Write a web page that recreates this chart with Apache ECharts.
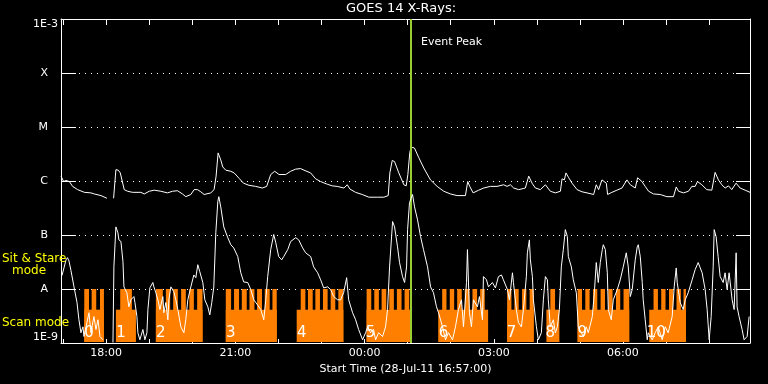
<!DOCTYPE html>
<html>
<head>
<meta charset="utf-8">
<script src="https://cdn.jsdelivr.net/npm/echarts@6/dist/echarts.min.js"></script>
<style>html,body{margin:0;padding:0;background:#000;}#c{width:768px;height:384px;}</style>
</head>
<body>
<div id="c"></div>
<script>
// ---- DATA (time = minutes after start 28-Jul-11 16:57:00, flux = log10 W/m^2) ----
const startLabel = 'Start Time (28-Jul-11 16:57:00)';
const startMinuteOfDay = 16 * 60 + 57;
const yTickLabels = ['1E-9', 'A', 'B', 'C', 'M', 'X', '1E-3'];
const xLabelMinutes = [63, 243, 423, 603, 783];
const hourTickMinutes = [3, 63, 123, 183, 243, 303, 363, 423, 483, 543, 603, 663, 723, 783, 843, 903];
const eventPeak = 488;

// long channel (upper curve)
const longChannel = [
[0,-5.91],[1.4,-5.88],[3.7,-6.01],[7,-5.99],[9.3,-5.96],[11.6,-6.01],[16.2,-6.10],[23.2,-6.16],[32.5,-6.21],[41.7,-6.22],[46.4,-6.24],[55.7,-6.27],[64,-6.32],[68,'-'],
[73.3,-6.32],[76.5,-5.79],[79.8,-5.80],[82.6,-5.85],[88.1,-6.16],[92.8,-6.19],[99.7,-6.21],[111.3,-6.21],[116,-6.24],[122.9,-6.19],[129.9,-6.17],[139.1,-6.19],[148.4,-6.22],[155.4,-6.19],[162.3,-6.18],[169.3,-6.24],[173.9,-6.29],[180.9,-6.25],[185.5,-6.16],[190.2,-6.16],[194.8,-6.20],[199.4,-6.25],[208.7,-6.22],[213.3,-6.16],
[216.1,-5.91],[218.9,-5.48],[220.8,-5.45],[222.6,-5.61],[225.4,-5.74],[229.6,-5.80],[236.5,-5.82],[241.2,-5.85],[248.1,-5.95],[254.2,-6.04],[262,-6.08],[271.3,-6.10],[280.6,-6.13],[286.6,-6.10],[292.2,-5.88],[297.8,-5.82],[303.8,-5.88],[313.1,-5.88],[320,-5.82],[327,-5.78],[333.9,-5.77],[338.6,-5.80],[347.8,-5.85],[354.8,-5.96],[361.7,-6.01],[371,-6.06],[378,-6.09],[384.9,-6.10],[394.2,-6.13],[398.8,-6.07],[402.6,-6.15],[410.4,-6.21],[419.7,-6.25],[429,-6.30],[440.6,-6.30],[449.9,-6.30],[455.9,-6.27],
[458.2,-5.85],[461.5,-5.62],[464.7,-5.64],[470.7,-5.85],[477.7,-6.07],[481,-6.09],[483.3,-5.88],[486,-5.47],[487.9,-5.37],[492.5,-5.39],[498.6,-5.57],[505.5,-5.76],[514.8,-5.98],[524.1,-6.10],[533.3,-6.19],[542.6,-6.24],[551.9,-6.27],[563.5,-6.27],[566.7,-6.01],[569.5,-6.10],[574.2,-6.22],[582,-6.17],[589,-6.13],[598.3,-6.10],[607.5,-6.10],[616.8,-6.07],[621.5,-6.10],[626.1,-6.07],[630.7,-6.13],[637.7,-6.16],[644,-6.14],[647,-6.13],
[651.7,-5.91],[656.3,-6.04],[661,-6.13],[667.9,-6.16],[674.9,-6.07],[681.8,-6.19],[688.8,-6.22],[695.8,-6.19],[698.1,-5.96],[701.3,-5.98],[703.6,-5.85],[707.4,-5.94],[712,-6.04],[719,-6.16],[725.9,-6.20],[732.9,-6.22],[742.1,-6.25],[745.8,-6.07],[749.1,-6.16],[753.7,-5.98],[756,-5.95],[759.8,-6.04],[761.6,-6.25],[767.6,-6.21],[774.6,-6.17],[781.6,-6.13],[788.5,-5.98],[793.2,-6.07],[800.1,-6.13],[803.4,-5.94],[806.1,-5.93],[809.4,-6.01],[814,-6.10],[818.7,-6.19],[825.6,-6.24],[834.9,-6.25],[844.2,-6.29],[853.4,-6.29],[857.2,-6.11],[860.4,-6.19],[867.4,-6.22],[874.3,-6.19],[879,-6.10],[883.6,-6.10],[886.8,-6.01],[892.9,-6.07],[899.8,-6.16],[906.8,-6.17],[911.4,-5.84],[916,-5.98],[920.7,-6.07],[925.4,-6.13],[930,-6.09],[934.6,-6.16],[940.6,-6.04],[946.2,-6.13],[953.2,-6.17],[960,-6.21]
];

// short channel (lower curve)
const shortChannel = [
[1.4,-7.75],[4,-7.72],[7,-7.46],[9,-7.42],[11.1,-7.48],[13.9,-7.66],[18.1,-7.96],[22.3,-8.25],[25,-8.57],[27.8,-8.81],[30.6,-8.70],[32,-8.88],[36.2,-8.62],[39,-8.44],[41.7,-8.81],[45.9,-8.51],[48.7,-8.75],[51.5,-8.57],[54.3,-8.88],[58.4,-8.94],[65,'-'],
[72.4,-8.99],[73.7,-7.59],[76.5,-6.85],[79.3,-6.96],[80.7,-7.09],[83.5,-7.12],[86.3,-7.49],[87.7,-7.96],[91.8,-8.07],[94.6,-8.33],[97.4,-8.20],[101.6,-8.14],[103,-8.25],[105.8,-8.51],[107.1,-8.81],[109.9,-8.94],[114.1,-8.75],[116.9,-8.94],[119.7,-8.81],[121.1,-8.38],[123.8,-7.98],[128,-7.88],[129.4,-7.96],[132.2,-8.07],[135,-8.20],[137.8,-8.38],[141.9,-8.14],[143.3,-8.44],[146.1,-8.25],[148.9,-8.57],[150.3,-8.20],[153.1,-7.96],[157.2,-8.05],[160,-8.20],[162.8,-8.38],[167,-8.70],[171.2,-8.81],[173.9,-8.57],[176.7,-8.20],[180.9,-7.96],[185.1,-7.74],[187.9,-7.79],[190.6,-7.55],[193.4,-7.68],[197.6,-7.88],[200.4,-8.20],[204.6,-8.33],[207.3,-8.48],[210.1,-8.25],[212.9,-7.96],
[215.7,-6.96],[218.5,-6.38],[219.9,-6.29],[222.6,-6.48],[226.8,-6.85],[232.4,-7.05],[236.6,-7.18],[240.7,-7.24],[246.3,-7.40],[250.5,-7.70],[254.6,-7.87],[260.2,-7.88],[264.4,-8.01],[268.6,-8.20],[274.1,-8.30],[278.3,-8.38],[282.5,-8.57],[285.3,-8.20],[288,-7.77],[292.2,-7.27],[296.4,-6.99],[299.2,-7.14],[303.3,-7.40],[307.5,-7.46],[310.3,-7.40],[315.9,-7.27],[320,-7.12],[327,-7.05],[331.2,-7.09],[336.7,-7.24],[340.9,-7.33],[347.9,-7.40],[352,-7.59],[357.6,-7.70],[361.8,-7.83],[366,-7.98],[371.5,-7.96],[375.7,-8.01],[379.9,-8.14],[385.4,-8.20],[389.6,-8.20],[393.8,-8.07],[398,-7.79],[400.8,-8.20],[406.3,-8.44],[410.5,-8.57],[414.7,-8.75],[420.2,-8.94],[424.4,-8.81],[427.2,-8.70],[431.4,-8.81],[435.5,-8.75],[438.3,-8.94],[442.5,-8.81],[448.1,-8.88],[452.2,-8.70],[455,-8.38],
[457.8,-7.59],[462,-6.75],[464.8,-6.85],[468.9,-7.22],[471.7,-7.51],[475.9,-7.77],[478.7,-7.88],[481.5,-7.59],[482.9,-6.90],[485.6,-6.40],[489.8,-6.25],[492.6,-6.48],[496.8,-6.72],[501,-7.03],[505.1,-7.27],[510.7,-7.59],[514.9,-7.96],[519,-8.07],[523.2,-8.33],[526,-8.44],[531.6,-8.70],[535.7,-8.94],[539.9,-8.81],[545.5,-8.94],[549.6,-8.70],[553.8,-8.38],[558,-8.20],[560.8,-8.70],[565,-7.88],[566.3,-7.27],[569.1,-8.44],[571.9,-8.70],[574.7,-8.20],[580.2,-8.33],[583,-8.14],[587.2,-8.57],[588.6,-7.77],[592.8,-7.83],[595.6,-7.96],[601.1,-7.88],[605.3,-7.98],[609.5,-7.77],
[613.7,-7.74],[616.4,-7.83],[622,-8.01],[624.8,-8.20],[629,-7.70],[630.4,-7.88],[634.5,-8.38],[637.3,-8.62],[641.5,-8.70],[644.3,-8.38],[648.4,-7.77],[649.8,-7.33],[652.6,-7.09],[654,-7.46],[656.8,-7.77],[658.2,-8.20],[662.4,-8.70],[665.1,-8.94],[669.3,-8.81],[672.1,-8.20],[674.9,-7.77],[677.7,-7.83],[679,-8.20],[681.8,-8.70],[686,-8.57],[688.8,-8.81],[691.6,-8.70],[694.4,-8.38],[697.1,-7.59],[699.9,-7.27],[702.7,-6.90],[705.5,-7.03],[706.9,-7.40],[711.1,-7.59],[713.8,-7.83],[718,-8.07],[720.8,-8.70],[725,-8.81],[727.8,-8.88],[731.9,-8.70],[734.7,-8.81],[740.3,-8.51],[743.1,-8.07],[745.8,-7.51],[748.6,-7.88],[751.4,-7.51],[754.2,-7.27],[755.6,-7.18],[758.4,-7.27],[761.2,-7.70],[762.6,-8.38],[766.7,-8.57],[769.5,-8.20],[775.1,-8.01],[779.2,-7.83],[783.4,-7.59],[787.6,-7.33],[790.4,-7.59],[793.2,-8.14],[795.9,-8.01],[800.1,-7.46],[802.9,-7.22],[804.3,-7.18],[807.1,-7.40],[809.9,-7.88],[811.2,-8.20],[814,-8.57],[816.8,-8.94],[818.2,-8.81],[823.8,-8.94],[827.9,-8.81],[832.1,-8.70],[837.7,-8.94],[841.9,-8.70],[846,-8.81],[851.6,-8.51],[854.4,-7.96],[857.2,-7.61],[858.6,-7.88],[862.7,-8.25],[866.9,-8.38],[869.7,-8.20],[873.9,-8.07],[879.4,-7.83],[883.6,-7.64],[887.8,-7.51],[893.3,-7.70],[897.5,-8.01],[900.3,-8.38],[903.1,-8.94],[905.9,-8.51],[908.7,-7.59],[910.1,-6.90],[912.8,-7.03],[915.6,-7.40],[918.4,-7.77],[922.6,-7.88],[925.3,-7.70],[928.1,-8.01],[930.9,-7.70],[935.1,-8.20],[937.9,-8.38],[940.7,-7.33],[942,-8.33],[944.8,-8.51],[949,-8.75],[951.8,-8.94],[956,-8.88],[958.8,-8.51]
];

// instrument mode: scan-mode blocks and sit & stare intervals (minutes)
const scanBlocks = [[32.4,59.8],[76.5,104.4],[132.2,197.2],[229.6,300.6],[328.4,393.4],[425.8,487],[525.6,595.1],[621.6,658.6],[676.3,694.4],[719.8,791.7],[819.6,870.7]];
const stareIntervals = [
[32.4,39.0],[42.7,49.1],[54.3,59.8],
[82.5,98.8],
[132.2,141.9],[146.1,152.1],[156.3,162.8],[167.4,173.9],[178.8,185.1],[189.7,197.2],
[229.6,237],[241.1,248.1],[251.9,258.8],[262.6,269.5],[273.2,280.1],[283.9,290.8],[294.6,300.6],
[334,340.5],[344.1,350.7],[354.4,360.8],[365,371.5],[375.7,382.2],[386.4,393.4],
[425.8,432.3],[436.5,442.9],[446.7,453.2],[457.4,463.8],[468,474.5],[478.7,485.2],
[531.1,537.1],[541.7,547.8],[552,558.4],[562.6,569.1],[573.3,579.8],[584,590.4],
[621.6,627.6],[631.7,637.7],[642.4,648.4],[653,658.6],
[681.8,688.4],
[719.8,725.9],[730.5,736.5],[741.3,747.2],[751.8,758],[762.6,768.5],[773.3,779.2],[783.8,791.7],
[825.6,831.7],[836.3,842.3],[847.1,853],[857.6,863.7],[867.4,870.7]
];
const seqLabels = ['0','1','2','3','4','5','6','7','8','9','10'];
const seqLabelTimes = [39, 83.5, 139, 236.6, 335.4, 431.4, 533, 627.6, 681.8, 726.4, 829.3];

// ---- CHART ----
const F = 'DejaVu Sans';
const STARE_TOP = -8, SCAN_TOP = -8.383, LABEL_Y = -8.81;
const modeData = scanBlocks.map(b => [b[0], b[1], 0]).concat(stareIntervals.map(s => [s[0], s[1], 1]));
const seqData = seqLabelTimes.map((t, i) => [t, LABEL_Y, seqLabels[i]]);

function fmtTime(v) {
  const h = Math.floor((startMinuteOfDay + v) / 60) % 24;
  return String(h).padStart(2, '0') + ':00';
}

const chart = echarts.init(document.getElementById('c'));
chart.setOption({
  animation: false,
  backgroundColor: '#000',
  title: { text: 'GOES 14 X-Rays:', left: 346, top: 2, padding: 0,
    textStyle: { color: '#fff', fontSize: 13, fontWeight: 'normal', fontFamily: F } },
  grid: { left: 61, right: 18, top: 19, bottom: 41 },
  xAxis: [
    { type: 'value', min: 0, max: 960, position: 'bottom',
      axisLine: { onZero: false, lineStyle: { color: '#fff', width: 1 } },
      axisTick: { inside: true, length: 4, customValues: hourTickMinutes, lineStyle: { color: '#fff' } },
      axisLabel: { customValues: xLabelMinutes, formatter: fmtTime, color: '#fff', fontSize: 11, fontFamily: F, margin: 5 },
      splitLine: { show: false },
      name: startLabel, nameLocation: 'middle', nameGap: 19,
      nameTextStyle: { color: '#fff', fontSize: 11, fontFamily: F } },
    { type: 'value', min: 0, max: 960, position: 'top',
      axisLine: { onZero: false, lineStyle: { color: '#fff', width: 1 } },
      axisTick: { inside: true, length: 6, customValues: hourTickMinutes, lineStyle: { color: '#fff' } },
      axisLabel: { show: false }, splitLine: { show: false } }
  ],
  yAxis: [
    { type: 'value', min: -9, max: -3, interval: 1, position: 'left',
      axisLine: { show: true, onZero: false, lineStyle: { color: '#fff', width: 1 } },
      axisTick: { inside: true, length: 15, lineStyle: { color: '#fff' } },
      axisLabel: {
        margin: 3, verticalAlignMinLabel: 'bottom', verticalAlignMaxLabel: 'top',
        formatter: v => { const s = yTickLabels[Math.round(v + 9)]; return s.length === 1 ? '{l|' + s + '}' : '{n|' + s + '}'; },
        rich: {
          l: { color: '#fff', fontSize: 11, fontFamily: F, padding: [0, 10, 0, 0] },
          n: { color: '#fff', fontSize: 11, fontFamily: F }
        }
      },
      splitLine: { show: true, lineStyle: { color: '#fff', type: [1, 5], width: 1 } } },
    { type: 'value', min: -9, max: -3, interval: 1, position: 'right',
      axisLine: { show: true, onZero: false, lineStyle: { color: '#fff', width: 1 } },
      axisTick: { inside: true, length: 14, lineStyle: { color: '#fff' } },
      axisLabel: { show: false }, splitLine: { show: false } }
  ],
  graphic: [
    { type: 'text', left: 2, top: 253, z: 100, style: { text: 'Sit & Stare', fill: '#ffff00', font: '12px "DejaVu Sans"' } },
    { type: 'text', left: 12, top: 265, z: 100, style: { text: 'mode', fill: '#ffff00', font: '12px "DejaVu Sans"' } },
    { type: 'text', left: 2, top: 317, z: 100, style: { text: 'Scan mode', fill: '#ffff00', font: '12px "DejaVu Sans"' } },
    { type: 'text', left: 421, top: 37, z: 100, style: { text: 'Event Peak', fill: '#fff', font: '11px "DejaVu Sans"' } }
  ],
  series: [
    { type: 'custom', xAxisIndex: 0, yAxisIndex: 0, z: 2, silent: true,
      data: modeData,
      renderItem: (params, api) => {
        const s = api.value(0), e = api.value(1), k = api.value(2);
        const p0 = api.coord([s, k === 1 ? STARE_TOP : SCAN_TOP]);
        const p1 = api.coord([e, -9]);
        return { type: 'rect', shape: { x: p0[0], y: p0[1], width: p1[0] - p0[0], height: p1[1] - 1 - p0[1] },
          style: { fill: '#ff8000' } };
      } },
    { type: 'custom', xAxisIndex: 0, yAxisIndex: 0, z: 3, silent: true,
      data: seqData,
      renderItem: (params, api) => {
        const p = api.coord([api.value(0), api.value(1)]);
        return { type: 'text', x: p[0], y: p[1],
          style: { text: seqLabels[params.dataIndex], fill: '#fff', font: '15px "DejaVu Sans"', align: 'center', verticalAlign: 'middle' } };
      } },
    { type: 'line', data: longChannel, showSymbol: false, z: 4, silent: true,
      lineStyle: { color: '#fff', width: 1 } },
    { type: 'line', data: shortChannel, showSymbol: false, z: 5, silent: true,
      lineStyle: { color: '#fff', width: 1 },
      markLine: { symbol: 'none', silent: true, label: { show: false },
        lineStyle: { color: '#9acd32', width: 2, type: 'solid' },
        data: [{ xAxis: eventPeak }] } }
  ]
});
</script>
</body>
</html>
